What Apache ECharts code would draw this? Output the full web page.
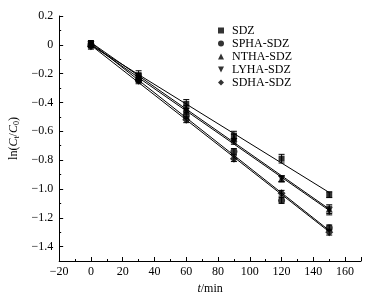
<!DOCTYPE html>
<html>
<head>
<meta charset="utf-8">
<script src="https://cdn.jsdelivr.net/npm/echarts@6/dist/echarts.min.js"></script>
<style>
  html, body { margin: 0; padding: 0; background: #fff; }
  #chart { width: 373px; height: 300px; }
</style>
</head>
<body>
<div id="chart"></div>
<script>
const times = [0, 30, 60, 90, 120, 150]
const seriesNames = ['SDZ', 'SPHA-SDZ', 'NTHA-SDZ', 'LYHA-SDZ', 'SDHA-SDZ']
const sdz = [0.0, -0.21, -0.41, -0.63, -0.79, -1.04]
const spha = [0.0, -0.24, -0.49, -0.74, -1.08, -1.27]
const ntha = [0.01, -0.22, -0.44, -0.65, -0.93, -1.14]
const lyha = [0.0, -0.23, -0.46, -0.67, -0.93, -1.15]
const sdha = [-0.01, -0.25, -0.52, -0.79, -1.03, -1.30]
const sdzErr = [0.02, 0.03, 0.03, 0.03, 0.03, 0.02]
const sphaErr = [0.02, 0.02, 0.02, 0.02, 0.02, 0.02]
const nthaErr = [0.02, 0.02, 0.02, 0.03, 0.02, 0.03]
const lyhaErr = [0.02, 0.02, 0.02, 0.02, 0.02, 0.03]
const sdhaErr = [0.02, 0.02, 0.02, 0.02, 0.02, 0.02]

const values = [sdz, spha, ntha, lyha, sdha]
const errors = [sdzErr, sphaErr, nthaErr, lyhaErr, sdhaErr]
const symbols = ['rect', 'circle', 'triangle', 'path://M0,0 L10,0 L5,10 Z', 'diamond']
const symSizes = [6, 7, 7, 7, 8]

const chart = echarts.init(document.getElementById('chart'))
const font = '"Liberation Serif", "DejaVu Serif", serif'

// least squares fit for each series
function fit(ys) {
  const n = times.length
  const mx = times.reduce((a, b) => a + b, 0) / n
  const my = ys.reduce((a, b) => a + b, 0) / n
  let sxy = 0, sxx = 0
  times.forEach((t, i) => { sxy += (t - mx) * (ys[i] - my); sxx += (t - mx) ** 2 })
  const k = sxy / sxx
  const b = my - k * mx
  return [[times[0], b + k * times[0]], [times[n - 1], b + k * times[n - 1]]]
}

const series = []
values.forEach((ys, i) => {
  series.push({
    name: seriesNames[i] + '_fit',
    type: 'line',
    data: fit(ys),
    symbol: 'none',
    lineStyle: { color: '#000', width: 1 },
    silent: true,
    z: 1
  })
  series.push({
    name: seriesNames[i] + '_err',
    type: 'custom',
    data: times.map((t, j) => [t, ys[j], errors[i][j]]),
    renderItem: (params, api) => {
      const x = api.value(0), y = api.value(1), e = api.value(2)
      const top = api.coord([x, y + e])
      const bot = api.coord([x, y - e])
      const w = 3
      const style = { stroke: '#000', lineWidth: 1 }
      return {
        type: 'group',
        children: [
          { type: 'line', shape: { x1: top[0], y1: top[1], x2: bot[0], y2: bot[1] }, style },
          { type: 'line', shape: { x1: top[0] - w, y1: top[1], x2: top[0] + w, y2: top[1] }, style },
          { type: 'line', shape: { x1: bot[0] - w, y1: bot[1], x2: bot[0] + w, y2: bot[1] }, style }
        ]
      }
    },
    z: 2
  })
  series.push({
    name: seriesNames[i],
    type: 'scatter',
    data: times.map((t, j) => [t, ys[j]]),
    symbol: symbols[i],
    symbolSize: symSizes[i],
    itemStyle: { color: '#000' },
    z: 3
  })
})

chart.setOption({
  animation: false,
  grid: { left: 51, right: 12, top: 16, bottom: 35 },
  legend: {
    data: seriesNames.map((n, i) => ({ name: n, icon: symbols[i], itemStyle: { color: '#000' } })),
    orient: 'vertical',
    left: 213,
    top: 19,
    itemGap: 0,
    itemWidth: 6,
    itemHeight: 6,
    textStyle: { fontFamily: font, fontSize: 12, lineHeight: 13, color: '#000', padding: [0, 0, 0, 3] }
  },
  xAxis: {
    type: 'value',
    min: -20,
    max: 170,
    interval: 20,
    name: '{i|t}{n|/min}',
    nameLocation: 'middle',
    nameGap: 22,
    nameTextStyle: {
      rich: {
        i: { fontFamily: font, fontSize: 12, fontStyle: 'italic', color: '#000' },
        n: { fontFamily: font, fontSize: 12, color: '#000' }
      }
    },
    axisLine: { onZero: false, lineStyle: { color: '#000', width: 1 } },
    axisTick: { inside: true, length: 4, lineStyle: { color: '#000' } },
    minorTick: { show: true, splitNumber: 2, length: 2, lineStyle: { color: '#000' } },
    axisLabel: {
      fontFamily: font, fontSize: 12, color: '#000', margin: 5,
      showMaxLabel: false,
      formatter: v => (v < 0 ? '\u2212' : '') + Math.abs(v)
    },
    splitLine: { show: false }
  },
  yAxis: {
    type: 'value',
    min: -1.5,
    max: 0.2,
    splitNumber: 8,
    name: '{n|ln(}{i|C}{s|t}{n|/}{i|C}{s|0}{n|)}',
    nameLocation: 'middle',
    nameGap: 37,
    nameRotate: 90,
    nameTextStyle: {
      rich: {
        i: { fontFamily: font, fontSize: 12, fontStyle: 'italic', color: '#000' },
        n: { fontFamily: font, fontSize: 12, color: '#000' },
        s: { fontFamily: font, fontSize: 8, color: '#000', verticalAlign: 'bottom', padding: [5, 0, 0, 0] }
      }
    },
    axisLine: { show: true, onZero: false, lineStyle: { color: '#000', width: 1 } },
    axisTick: { inside: true, length: 4, lineStyle: { color: '#000' } },
    minorTick: { show: true, splitNumber: 2, length: 2, lineStyle: { color: '#000' } },
    axisLabel: {
      fontFamily: font, fontSize: 12, color: '#000', margin: 6,
      showMinLabel: false,
      formatter: v => {
        const r = Math.round(v * 10) / 10
        if (r === 0) return '0'
        return (r < 0 ? '\u2212' : '') + Math.abs(r).toFixed(1)
      }
    },
    splitLine: { show: false }
  },
  series
})
</script>
</body>
</html>
